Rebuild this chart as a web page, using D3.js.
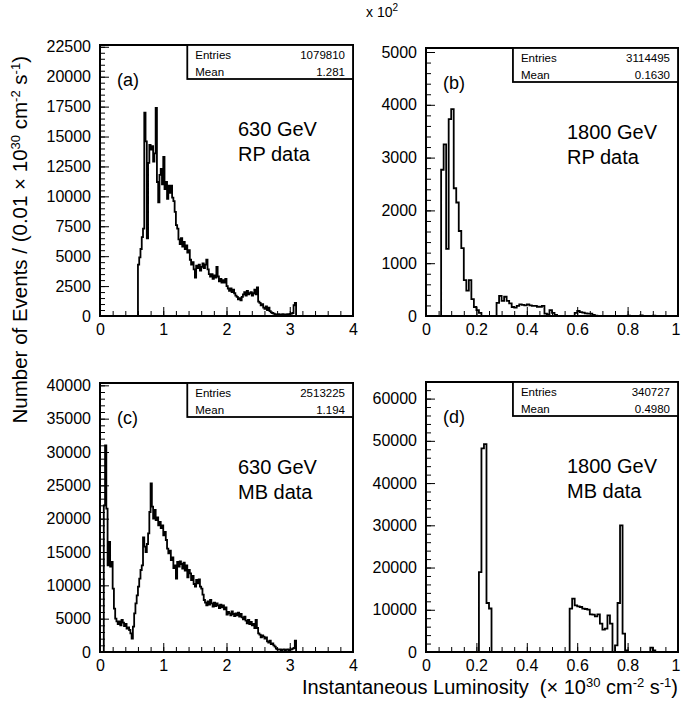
<!DOCTYPE html>
<html>
<head>
<meta charset="utf-8">
<script src="https://cdn.jsdelivr.net/npm/d3@7"></script>
<style>
  body { margin: 0; background: #fff; }
  svg text { font-family: "Liberation Sans", Arial, Helvetica, sans-serif; fill: #000; }
</style>
</head>
<body>
<svg id="chart" width="681" height="704"></svg>
<script>
// ---------------------------------------------------------------
// Instantaneous luminosity distributions (events per 0.01 x 10^30 cm^-2 s^-1)
// ---------------------------------------------------------------

// (a) 630 GeV, RP data: bins of 0.02 starting at 0.60
const rp630Start = 0.60;
const rp630BinWidth = 0.02;
const rp630Counts = [
  4300, 4900, 5600, 6600, 7300, 17000, 14600, 6500, 12800, 14300,
  13900, 14200, 12900, 13600, 17400, 11200, 9500, 11800, 12300, 11000,
  13300, 10600, 11200, 9800, 10900, 10300, 10900, 9900, 9600, 8700,
  7600, 7300, 6400, 6000, 6500, 5800, 6200, 5600, 5900, 5300,
  5500, 4700, 4300, 4500, 3900, 3200, 4200, 4000, 4300, 3800,
  4100, 4400, 4000, 4300, 4700, 3900, 3500, 3300, 3500, 3100,
  3400, 3200, 4100, 3300, 2900, 3100, 2800, 3000, 2800, 3100,
  2500, 2300, 2100, 2300, 2000, 2200, 1900, 1700, 1600, 1400,
  1500, 1300, 1600, 1800, 2000, 1700, 2100, 1800, 1900, 2000,
  1700, 1900, 2200, 1800, 2400, 1200, 1100, 900, 1000, 700,
  600, 800, 500, 700, 400, 300, 250, 200, 150, 120,
  100, 150, 100, 120, 150, 100, 130, 110, 150, 120,
  180, 200, 250, 900, 1100
];

// (b) 1800 GeV, RP data: bins of 0.01 starting at 0
const rp1800Start = 0;
const rp1800BinWidth = 0.01;
const rp1800Counts = [
  0, 0, 0, 0, 0, 0, 2770, 3250, 1270, 3730,
  3920, 2420, 2150, 1610, 1285, 680, 480, 680, 320, 170,
  110, 60, 0, 0, 0, 0, 0, 0, 250, 380,
  285, 365, 285, 240, 170, 160, 190, 220, 210, 200,
  220, 200, 190, 190, 175, 175, 190, 45, 30, 110,
  60, 20, 0, 0, 0, 0, 0, 0, 0, 60,
  95, 75, 65, 50, 45, 45, 20, 6, 0, 0,
  0, 0, 0, 0, 0, 0, 0, 0, 0, 0,
  8, 0, 0, 0, 0, 10, 0, 0, 0, 0,
  6, 0, 0, 0, 0, 0, 0, 0, 0, 0
];

// (c) 630 GeV, MB data: bins of 0.02 starting at 0.06
const mb630Start = 0.06;
const mb630BinWidth = 0.02;
const mb630Counts = [
  22000, 31000, 21500, 13000, 16500, 12800, 13500, 9500, 6500, 5000,
  4600, 4200, 4600, 4000, 4800, 4400, 3900, 4200, 3500, 3700,
  3300, 2800, 2000, 3800, 5800, 7300, 8500, 9800, 11000, 12300,
  13000, 17200, 15800, 15000, 16200, 17800, 21000, 25300, 21800, 20000,
  21300, 19800, 20200, 19000, 19500, 18600, 19000, 17500, 18000, 16800,
  15500, 14800, 15200, 13800, 14200, 12600, 13000, 11000, 13500, 12800,
  13600, 13200, 12500, 13400, 12200, 13000, 11200, 12300, 11800, 10800,
  11400, 10200, 9800, 10800, 10300, 10900, 9800, 9500, 8600, 7800,
  7400, 7000, 7600, 7100, 7800, 7300, 6800, 7400, 6900, 7300,
  7000, 6600, 7100, 6700, 7000, 6400, 6700, 5600, 6000, 5800,
  5500, 6100, 5700, 5400, 5800, 5500, 5900, 5300, 5700, 5200,
  4900, 5300, 4700, 4300, 4800, 4200, 4500, 4000, 4200, 3600,
  4800, 3600, 2800, 2600, 2200, 2500, 2300, 2000, 2200, 1600,
  1400, 1700, 1200, 1300, 1000, 800, 500, 400, 350, 400,
  300, 350, 400, 300, 350, 400, 300, 350, 400, 500,
  600, 1700
];

// (d) 1800 GeV, MB data: bins of 0.01 starting at 0
const mb1800Start = 0;
const mb1800BinWidth = 0.01;
const mb1800Counts = [
  0, 0, 0, 0, 0, 0, 0, 0, 0, 0,
  0, 0, 0, 0, 0, 0, 0, 0, 0, 0,
  0, 18900, 48200, 49200, 11600, 10300, 0, 0, 0, 0,
  0, 0, 0, 0, 0, 0, 0, 0, 0, 0,
  0, 0, 0, 0, 0, 0, 0, 0, 0, 0,
  0, 0, 0, 0, 0, 0, 0, 10260, 12630, 11050,
  10810, 10650, 10260, 10180, 10020, 8920, 8840, 8440, 8920, 6710,
  5290, 5520, 8680, 6710, 0, 1580, 11600, 30000, 4340, 400,
  0, 0, 0, 0, 0, 0, 0, 0, 0, 1030,
  400, 0, 0, 0, 0, 0, 0, 0, 0, 0
];

// Panel annotations and statistics-box contents
const panelTags = ["(a)", "(b)", "(c)", "(d)"];
const energyLabels = ["630 GeV", "1800 GeV", "630 GeV", "1800 GeV"];
const sampleLabels = ["RP data", "RP data", "MB data", "MB data"];
const entriesValues = ["1079810", "3114495", "2513225", "340727"];
const meanValues = ["1.281", "0.1630", "1.194", "0.4980"];

// Axis ranges and tick spacing
const xMaxima = [4, 1, 4, 1];
const xMajorSteps = [1, 0.2, 1, 0.2];
const xMinorDivs = [5, 4, 5, 4];
const yMaxima = [22650, 5076, 40350, 63930];
const yMajorSteps = [2500, 1000, 5000, 10000];
const yMinorDivs = [5, 5, 5, 5];

// ---------------------------------------------------------------
const histData = [
  { start: rp630Start, width: rp630BinWidth, counts: rp630Counts },
  { start: rp1800Start, width: rp1800BinWidth, counts: rp1800Counts },
  { start: mb630Start, width: mb630BinWidth, counts: mb630Counts },
  { start: mb1800Start, width: mb1800BinWidth, counts: mb1800Counts }
];

// pad frames in pixels
const frames = [
  { l: 100, r: 353, t: 45, b: 316 },
  { l: 426, r: 678, t: 48, b: 316 },
  { l: 100, r: 353, t: 383, b: 652 },
  { l: 426, r: 678, t: 382, b: 652 }
];

const svg = d3.select("#chart");
svg.append("rect").attr("width", 681).attr("height", 704).attr("fill", "#fff");

const FONT = '"Liberation Sans", Arial, Helvetica, sans-serif';
const MAJOR = 9, MINOR = 5;

function rangeSteps(max, step) {
  const out = [];
  const n = Math.floor(max / step + 1e-9);
  for (let i = 0; i <= n; i++) out.push(+(i * step).toFixed(6));
  return out;
}

function styleAxis(g) {
  g.select(".domain").remove();
  g.attr("font-family", FONT).attr("font-size", 16);
  g.selectAll(".tick line").attr("stroke", "#000").attr("stroke-width", 1);
  g.selectAll(".tick text").attr("fill", "#000");
}

frames.forEach((f, i) => {
  const h = histData[i];
  const x = d3.scaleLinear().domain([0, xMaxima[i]]).range([f.l, f.r]);
  const y = d3.scaleLinear().domain([0, yMaxima[i]]).range([f.b, f.t]);
  const g = svg.append("g");

  // histogram outline as a step curve
  const pts = [[h.start, 0]];
  h.counts.forEach((v, k) => pts.push([h.start + k * h.width, v]));
  pts.push([h.start + h.counts.length * h.width, 0]);
  const line = d3.line()
    .x(d => x(d[0]))
    .y(d => y(d[1]))
    .curve(d3.curveStepAfter);
  g.append("path")
    .attr("d", line(pts))
    .attr("fill", "none")
    .attr("stroke", "#000")
    .attr("stroke-width", 1.8)
    .attr("stroke-linejoin", "miter");

  // minor ticks
  const xMinor = rangeSteps(xMaxima[i], xMajorSteps[i] / xMinorDivs[i]);
  const yMinor = rangeSteps(yMaxima[i], yMajorSteps[i] / yMinorDivs[i]);
  g.append("g")
    .attr("transform", `translate(0,${f.b})`)
    .call(d3.axisBottom(x).tickValues(xMinor).tickSize(-MINOR).tickFormat(""))
    .call(styleAxis);
  g.append("g")
    .attr("transform", `translate(${f.l},0)`)
    .call(d3.axisLeft(y).tickValues(yMinor).tickSize(-MINOR).tickFormat(""))
    .call(styleAxis);

  // major ticks with labels
  const xAxisG = g.append("g")
    .attr("transform", `translate(0,${f.b})`)
    .call(d3.axisBottom(x).tickValues(rangeSteps(xMaxima[i], xMajorSteps[i]))
      .tickSize(-MAJOR).tickPadding(8).tickFormat(d3.format("~g")))
    .call(styleAxis);
  // keep the label at the right page edge inside the page
  if (f.r > 670) {
    xAxisG.selectAll(".tick text").filter(d => d === xMaxima[i]).attr("dx", -2.5);
  }
  g.append("g")
    .attr("transform", `translate(${f.l},0)`)
    .call(d3.axisLeft(y).tickValues(rangeSteps(yMaxima[i], yMajorSteps[i]))
      .tickSize(-MAJOR).tickPadding(9).tickFormat(d3.format("d")))
    .call(styleAxis);

  // frame
  g.append("rect")
    .attr("x", f.l).attr("y", f.t)
    .attr("width", f.r - f.l).attr("height", f.b - f.t)
    .attr("fill", "none").attr("stroke", "#000").attr("stroke-width", 2);

  // statistics box
  const boxL = f.l + 0.345 * (f.r - f.l);
  const boxB = f.t + 34;
  g.append("rect")
    .attr("x", boxL).attr("y", f.t)
    .attr("width", f.r - boxL).attr("height", boxB - f.t)
    .attr("fill", "#fff").attr("stroke", "#000").attr("stroke-width", 1.8);
  g.append("text").attr("x", boxL + 8).attr("y", f.t + 14)
    .attr("font-size", 11.5).text("Entries");
  g.append("text").attr("x", f.r - 8).attr("y", f.t + 14)
    .attr("font-size", 11.5).attr("text-anchor", "end").text(entriesValues[i]);
  g.append("text").attr("x", boxL + 8).attr("y", f.t + 30.5)
    .attr("font-size", 11.5).text("Mean");
  g.append("text").attr("x", f.r - 8).attr("y", f.t + 30.5)
    .attr("font-size", 11.5).attr("text-anchor", "end").text(meanValues[i]);

  // panel tag and labels
  g.append("text").attr("x", f.l + 17).attr("y", f.t + 41)
    .attr("font-size", 18).text(panelTags[i]);
  const lx = f.l + (i % 2 === 0 ? 138 : 141);
  g.append("text").attr("x", lx).attr("y", f.t + 91)
    .attr("font-size", 20).text(energyLabels[i]);
  g.append("text").attr("x", lx).attr("y", f.t + 116)
    .attr("font-size", 20).text(sampleLabels[i]);
});

// scale factor note above the right column
const note = svg.append("text").attr("x", 366).attr("y", 17).attr("font-size", 14);
note.append("tspan").text("x 10");
note.append("tspan").attr("dy", -6).attr("font-size", 10).text("2");

// y-axis title, right-aligned to the top of the upper pads
const yt = svg.append("text")
  .attr("transform", "translate(27,56) rotate(-90)")
  .attr("text-anchor", "end")
  .attr("font-size", 20.5)
  .style("white-space", "pre");
yt.append("tspan").text("Number of Events / (0.01 \u00d7 10");
yt.append("tspan").attr("dy", -7).attr("font-size", 13).text("30");
yt.append("tspan").attr("dy", 7).text(" cm");
yt.append("tspan").attr("dy", -7).attr("font-size", 13).text("-2");
yt.append("tspan").attr("dy", 7).text(" s");
yt.append("tspan").attr("dy", -7).attr("font-size", 13).text("-1");
yt.append("tspan").attr("dy", 7).text(")");

// x-axis title
const xt = svg.append("text")
  .attr("x", 678).attr("y", 694)
  .attr("text-anchor", "end")
  .attr("font-size", 20)
  .style("white-space", "pre");
xt.append("tspan").text("Instantaneous Luminosity  (\u00d7 10");
xt.append("tspan").attr("dy", -7).attr("font-size", 13).text("30");
xt.append("tspan").attr("dy", 7).text(" cm");
xt.append("tspan").attr("dy", -7).attr("font-size", 13).text("-2");
xt.append("tspan").attr("dy", 7).text(" s");
xt.append("tspan").attr("dy", -7).attr("font-size", 13).text("-1");
xt.append("tspan").attr("dy", 7).text(")");
</script>
</body>
</html>
